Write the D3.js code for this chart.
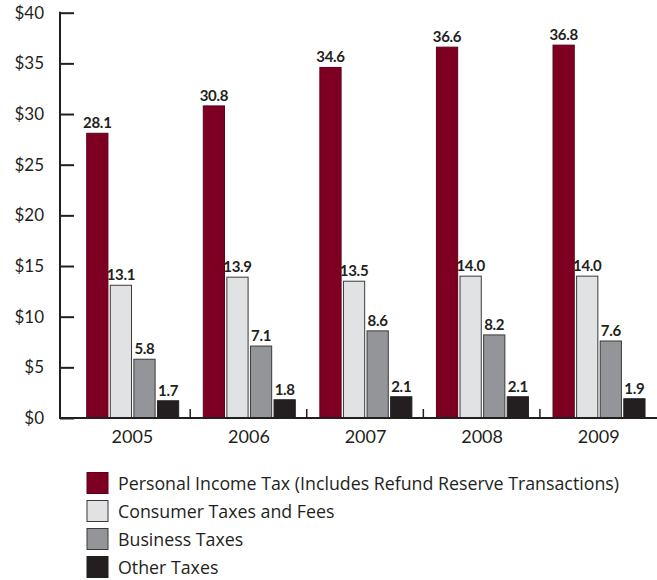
<!DOCTYPE html>
<html>
<head>
<meta charset="utf-8">
<script src="https://cdn.jsdelivr.net/npm/d3@7"></script>
<style>
  html, body { margin: 0; padding: 0; background: #fff; }
  svg { display: block; }
  .tick-label { font-family: Lato, "Open Sans", sans-serif; font-size: 17px; fill: #231F20; }
  .value-label { font-family: Lato, "Open Sans", sans-serif; font-size: 15px; font-weight: bold; fill: #231F20; letter-spacing: -0.3px; }
  .legend-label { font-family: "Open Sans", Lato, sans-serif; font-size: 17.8px; fill: #231F20; }
</style>
</head>
<body>
<svg id="chart" width="657" height="580"></svg>
<script>
// Fiscal years shown along the x axis
const years = ["2005", "2006", "2007", "2008", "2009"];

// Revenue by source, billions of dollars
const seriesNames = [
  "Personal Income Tax (Includes Refund Reserve Transactions)",
  "Consumer Taxes and Fees",
  "Business Taxes",
  "Other Taxes"
];
const personalIncomeTax = [28.1, 30.8, 34.6, 36.6, 36.8];
const consumerTaxes     = [13.1, 13.9, 13.5, 14.0, 14.0];
const businessTaxes     = [5.8, 7.1, 8.6, 8.2, 7.6];
const otherTaxes        = [1.7, 1.8, 2.1, 2.1, 1.9];

// Y axis ticks
const yTicks = [0, 5, 10, 15, 20, 25, 30, 35, 40];

const seriesValues = [personalIncomeTax, consumerTaxes, businessTaxes, otherTaxes];
const fills   = ["#7D0022", "#E1E2E4", "#939598", "#231F20"];
const strokes = ["#5E0019", "#3a3a3a", "#3a3a3a", "#231F20"];
const ink = "#231F20";

const svg = d3.select("#chart");

const axisX = 60, baseY = 418, topY = 12.7;

const y = d3.scaleLinear().domain([0, 40]).range([baseY, topY]);
const x0 = d3.scaleBand().domain(years).range([74.1, 657]).paddingInner(0).paddingOuter(0);
const x1 = d3.scaleBand().domain(d3.range(seriesNames.length)).range([12.6, 104.6]).paddingInner(0.1).paddingOuter(0);

// Bars
const groups = svg.append("g").selectAll("g")
  .data(years)
  .join("g")
  .attr("transform", d => `translate(${x0(d)},0)`);

groups.selectAll("rect")
  .data((yr, i) => seriesValues.map((vals, s) => ({ s, v: vals[i] })))
  .join("rect")
  .attr("x", d => x1(d.s))
  .attr("y", d => y(d.v))
  .attr("width", x1.bandwidth())
  .attr("height", d => baseY - y(d.v))
  .attr("fill", d => fills[d.s])
  .attr("stroke", d => strokes[d.s])
  .attr("stroke-width", 1);

groups.selectAll("text")
  .data((yr, i) => seriesValues.map((vals, s) => ({ s, v: vals[i] })))
  .join("text")
  .attr("class", "value-label")
  .attr("x", d => x1(d.s) + x1.bandwidth() / 2)
  .attr("y", d => y(d.v) - 5)
  .attr("text-anchor", "middle")
  .text(d => d.v.toFixed(1));

// Y axis: ticks point inward
const yAxis = svg.append("g")
  .attr("transform", `translate(${axisX},0)`)
  .call(d3.axisRight(y).tickValues(yTicks).tickSize(14).tickFormat(""));
yAxis.select(".domain").remove();
yAxis.selectAll(".tick line").attr("stroke", ink).attr("stroke-width", 2);
svg.append("line")
  .attr("x1", axisX).attr("x2", axisX)
  .attr("y1", topY - 1).attr("y2", baseY + 1)
  .attr("stroke", ink).attr("stroke-width", 2);

svg.append("g").selectAll("text")
  .data(yTicks)
  .join("text")
  .attr("class", "tick-label")
  .attr("x", 44)
  .attr("y", d => y(d))
  .attr("dy", "0.35em")
  .attr("text-anchor", "end")
  .text(d => "$" + d);

// X axis baseline with upward ticks at group boundaries
svg.append("line")
  .attr("x1", axisX - 1).attr("x2", 657)
  .attr("y1", baseY).attr("y2", baseY)
  .attr("stroke", ink).attr("stroke-width", 2);

svg.append("g").selectAll("line")
  .data(years.slice(1))
  .join("line")
  .attr("x1", d => x0(d) - 0.5).attr("x2", d => x0(d) - 0.5)
  .attr("y1", baseY).attr("y2", baseY - 9)
  .attr("stroke", ink).attr("stroke-width", 1.5);

svg.append("g").selectAll("text")
  .data(years)
  .join("text")
  .attr("class", "tick-label")
  .style("font-size", "18px")
  .attr("x", d => x0(d) + x0.bandwidth() / 2)
  .attr("y", 443)
  .attr("text-anchor", "middle")
  .text(d => d);

// Legend
const legend = svg.append("g").selectAll("g")
  .data(seriesNames)
  .join("g")
  .attr("transform", (d, i) => `translate(87,${472.5 + i * 28})`);

legend.append("rect")
  .attr("width", 21).attr("height", 21)
  .attr("fill", (d, i) => fills[i])
  .attr("stroke", (d, i) => strokes[i])
  .attr("stroke-width", 1);

legend.append("text")
  .attr("class", "legend-label")
  .attr("x", 31)
  .attr("y", 11)
  .attr("dy", "0.35em")
  .text(d => d);
</script>
</body>
</html>
